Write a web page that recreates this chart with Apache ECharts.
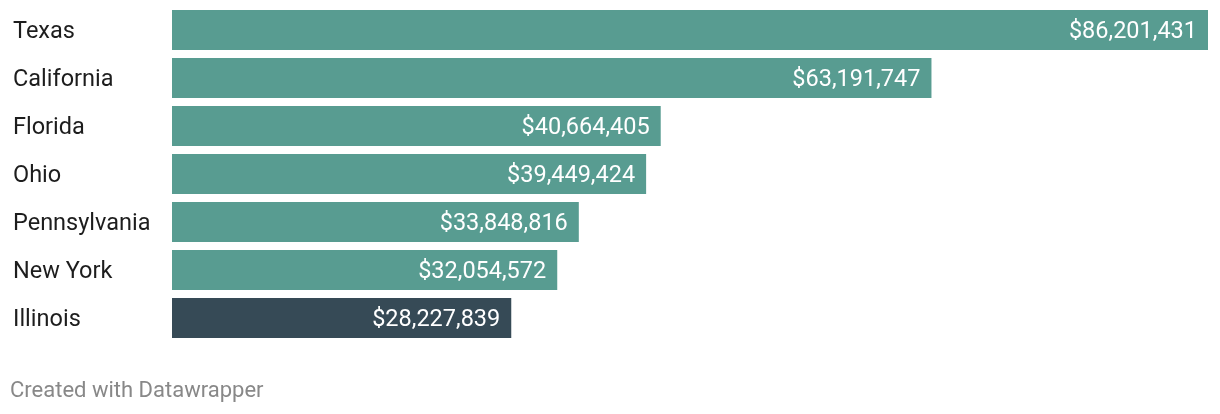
<!DOCTYPE html>
<html><head><meta charset="utf-8">
<script src="https://cdn.jsdelivr.net/npm/echarts@6/dist/echarts.min.js"></script>
<style>html,body{margin:0;padding:0;background:#fff}#c{width:1220px;height:414px}</style>
</head><body><div id="c"></div>
<script>
const categories = ["Texas","California","Florida","Ohio","Pennsylvania","New York","Illinois"];
const values = [86201431,63191747,40664405,39449424,33848816,32054572,28227839];
const highlight = "Illinois";
const chart = echarts.init(document.getElementById('c'));
const fmt = v => '$' + v.toLocaleString('en-US');
chart.setOption({
  animation:false,
  grid:{left:172,right:12,top:6,height:336,containLabel:false},
  xAxis:{type:'value',min:0,max:86201431,show:false},
  yAxis:{type:'category',data:categories,inverse:true,
    axisLine:{show:false},axisTick:{show:false},
    axisLabel:{align:'left',margin:159,formatter:v=>'{a|'+v+'}',
      rich:{a:{fontFamily:'Roboto',fontSize:23.5,color:'#1d1d1d',padding:[4,0,0,0]}}}},
  series:[{type:'bar',barWidth:40,
    data:values.map((v,i)=>({value:v,itemStyle:{color:categories[i]===highlight?'#364a56':'#589c91'}})),
    label:{show:true,position:'insideRight',distance:11,offset:[0,2],formatter:p=>fmt(p.value),
      fontFamily:'Roboto',fontSize:23.5,color:'#fff'}}],
  graphic:[{type:'text',left:10,top:380,style:{text:'Created with Datawrapper',font:'22px Roboto',fill:'#888888'}}]
});
</script></body></html>
